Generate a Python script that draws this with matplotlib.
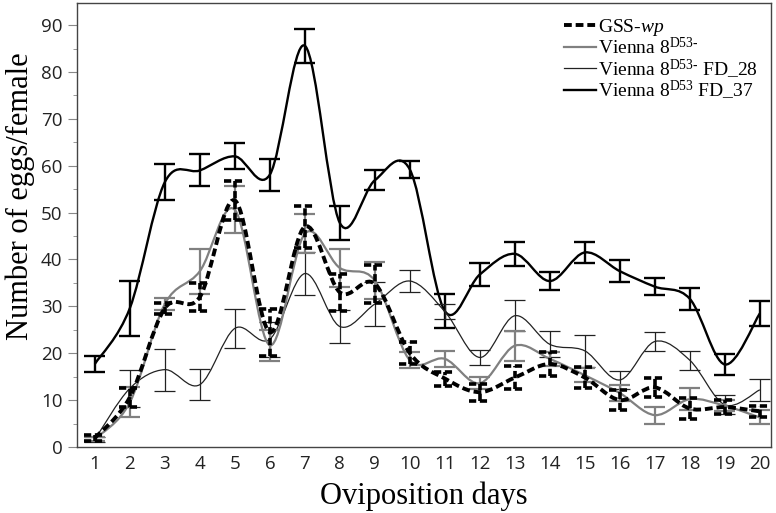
import numpy as np
import matplotlib.pyplot as plt
from matplotlib.path import Path
from matplotlib.patches import PathPatch
from matplotlib.lines import Line2D

plt.rcParams['mathtext.fontset'] = 'custom'
plt.rcParams['mathtext.rm'] = 'Liberation Serif'
plt.rcParams['mathtext.it'] = 'Liberation Serif:italic'

# Oviposition days and mean eggs/female (+/- error) per strain
days = list(range(1, 21))

gss_wp = [1.9, 10.6, 29.6, 32.0, 52.6, 24.5, 47.0, 33.0, 34.8, 20.0,
          14.6, 11.7, 14.8, 17.7, 14.8, 10.0, 12.7, 8.2, 8.5, 7.6]
gss_wp_err = [0.6, 2.0, 1.2, 3.0, 4.2, 5.0, 4.5, 4.0, 4.0, 2.3,
              1.5, 1.8, 2.4, 2.6, 2.3, 2.2, 2.0, 2.2, 1.5, 1.1]

vienna = [1.7, 9.5, 30.5, 37.5, 50.6, 21.7, 45.5, 38.2, 35.5, 18.5,
          18.8, 13.6, 21.6, 18.8, 15.3, 11.5, 6.8, 10.2, 8.8, 6.3]
vienna_err = [0.5, 3.2, 1.3, 4.8, 5.0, 3.3, 4.2, 4.0, 4.0, 1.7,
              1.7, 1.3, 3.2, 1.5, 1.5, 1.7, 1.8, 2.3, 1.2, 1.5]

fd28 = [1.6, 12.5, 16.5, 13.3, 25.3, 23.0, 37.0, 25.7, 30.5, 35.4,
        28.9, 19.1, 28.0, 21.9, 20.5, 14.3, 22.5, 18.5, 9.0, 12.2]
fd28_err = [0.5, 4.0, 4.5, 3.3, 4.2, 3.7, 4.5, 3.5, 4.7, 2.3,
            1.7, 1.6, 3.3, 2.8, 3.4, 2.0, 2.0, 2.0, 2.0, 2.3]

fd37 = [17.7, 29.6, 56.5, 59.0, 62.0, 58.1, 85.6, 47.8, 56.9, 59.2,
        29.0, 36.8, 41.2, 35.4, 41.5, 37.5, 34.2, 31.6, 17.6, 28.5]
fd37_err = [1.7, 5.9, 3.8, 3.4, 2.8, 3.4, 3.6, 3.7, 2.1, 1.9,
            3.7, 2.4, 2.6, 2.0, 2.3, 2.3, 1.8, 2.4, 2.3, 2.7]


def smooth_path(x, y):
    # Bezier curve through every point (spreadsheet-style smoothed line)
    n = len(x)
    verts = [(x[0], y[0])]
    codes = [Path.MOVETO]
    for i in range(n - 1):
        xa, ya = (x[i - 1], y[i - 1]) if i > 0 else (x[i], y[i])
        xb, yb = (x[i + 2], y[i + 2]) if i + 2 < n else (x[i + 1], y[i + 1])
        c1 = (x[i] + (x[i + 1] - xa) / 6, y[i] + (y[i + 1] - ya) / 6)
        c2 = (x[i + 1] - (xb - x[i]) / 6, y[i + 1] - (yb - y[i]) / 6)
        verts += [c1, c2, (x[i + 1], y[i + 1])]
        codes += [Path.CURVE4] * 3
    return Path(verts, codes)


def draw_series(ax, y, err, color, lw, ls, elw, z):
    x = np.array(days, dtype=float)
    y = np.array(y)
    err = np.array(err)
    cap = 0.3
    ax.vlines(x, y - err, y + err, colors=color, lw=elw, linestyles=ls, zorder=z)
    ax.hlines(y - err, x - cap, x + cap, colors=color, lw=elw, linestyles=ls, zorder=z)
    ax.hlines(y + err, x - cap, x + cap, colors=color, lw=elw, linestyles=ls, zorder=z)
    ax.add_patch(PathPatch(smooth_path(x, y), fill=False, edgecolor=color,
                           lw=lw, linestyle=ls, zorder=z))


fig = plt.figure(figsize=(7.76, 5.13), dpi=100)
ax = fig.add_axes([0.0992, 0.1287, 0.8944, 0.8653])

dash = (0, (2.0, 1.0))
draw_series(ax, fd37, fd37_err, 'black', 1.7, 'solid', 1.7, 3)
draw_series(ax, fd28, fd28_err, '#222222', 0.9, 'solid', 0.9, 4)
draw_series(ax, vienna, vienna_err, '#808080', 1.6, 'solid', 1.6, 5)
draw_series(ax, gss_wp, gss_wp_err, 'black', 2.8, dash, 2.6, 6)

ax.set_xlim(0.49, 20.32)
ax.set_ylim(0, 94.7)
ax.set_xticks(days)
ax.set_yticks(range(0, 91, 10))
ax.set_yticks(range(5, 91, 10), minor=True)
ax.tick_params(axis='y', which='major', direction='out', length=6.5,
               color='#888888', labelsize=13.5, labelcolor='#222222', pad=4)
ax.tick_params(axis='y', which='minor', direction='out', length=3, color='#888888')
ax.tick_params(axis='x', which='major', length=0, labelsize=13.5,
               labelcolor='#222222', pad=6)
for lab in ax.get_xticklabels() + ax.get_yticklabels():
    lab.set_family('Open Sans')
for s in ax.spines.values():
    s.set_color('#444444')
    s.set_linewidth(1.0)

ax.set_xlabel('Oviposition days', family='Liberation Serif', fontsize=22, labelpad=6)
ax.set_ylabel('Number of eggs/female', family='Liberation Serif', fontsize=22)
ax.yaxis.set_label_coords(-0.06, 0.565)

handles = [
    Line2D([], [], color='black', lw=2.8, linestyle=dash),
    Line2D([], [], color='#808080', lw=1.6),
    Line2D([], [], color='#222222', lw=0.9),
    Line2D([], [], color='black', lw=1.7),
]
labels = [
    'GSS-$\\mathit{wp}$',
    'Vienna 8$^{\\mathrm{D53}\\text{-}}$',
    'Vienna 8$^{\\mathrm{D53}\\text{-}}$ FD_28',
    'Vienna 8$^{\\mathrm{D53}}$ FD_37',
]
ax.legend(handles, labels, loc='upper right', bbox_to_anchor=(1.0, 1.0),
          frameon=False, prop={'family': 'Liberation Serif', 'size': 14},
          handlelength=1.6, handletextpad=0.1, labelspacing=-0.06,
          borderaxespad=0.3)

fig.savefig('out.png', dpi=100)
